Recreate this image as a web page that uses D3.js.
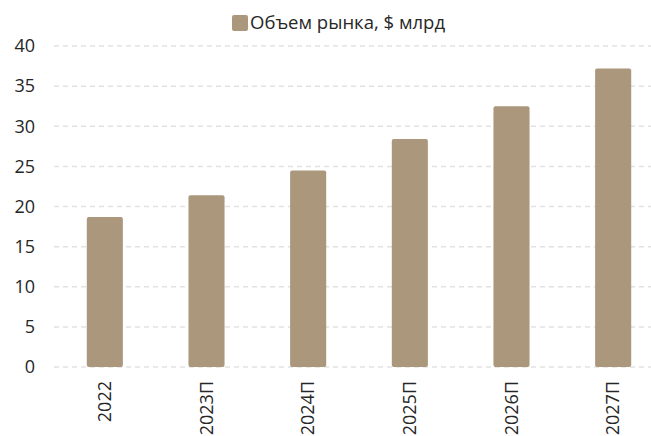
<!DOCTYPE html>
<html>
<head>
<meta charset="utf-8">
<script src="https://cdn.jsdelivr.net/npm/d3@7"></script>
<style>
  body { margin: 0; background: #fff; }
  text { font-family: "Open Sans", sans-serif; fill: #262626; }
</style>
</head>
<body>
<div id="chart"></div>
<script>
const width = 651;
const height = 436;

// market size, $ bn
const years = ["2022", "2023П", "2024П", "2025П", "2026П", "2027П"];
const values = [18.7, 21.4, 24.5, 28.4, 32.5, 37.2];
const yTicks = [0, 5, 10, 15, 20, 25, 30, 35, 40];
const seriesName = "Объем рынка, $ млрд";

const barColor = "#ab977c";

const svg = d3
  .select("#chart")
  .append("svg")
  .attr("width", width)
  .attr("height", height);

const x = d3.scaleBand().domain(years).range([54, 664]).paddingInner(0.645).paddingOuter(0.3225);
const y = d3.scaleLinear().domain([0, 40]).range([367, 46]);

// grid
svg
  .append("g")
  .selectAll("line")
  .data(yTicks)
  .join("line")
  .attr("x1", 54)
  .attr("x2", 664)
  .attr("y1", (d) => y(d))
  .attr("y2", (d) => y(d))
  .attr("stroke", "#e2e2e2")
  .attr("stroke-width", 1.5)
  .attr("stroke-dasharray", "5,4");

// y labels
svg
  .append("g")
  .selectAll("text")
  .data(yTicks)
  .join("text")
  .attr("x", 35)
  .attr("y", (d) => y(d))
  .attr("dy", "0.35em")
  .attr("text-anchor", "end")
  .style("font-size", "18px")
  .text((d) => d);

// bars
svg
  .append("g")
  .selectAll("rect")
  .data(values)
  .join("rect")
  .attr("x", (d, i) => x(years[i]))
  .attr("width", x.bandwidth())
  .attr("y", (d) => y(d))
  .attr("height", (d) => y(0) - y(d))
  .attr("rx", 2)
  .attr("fill", barColor);

// x labels, rotated
svg
  .append("g")
  .selectAll("text")
  .data(years)
  .join("text")
  .attr("transform", (d) => `translate(${x(d) + x.bandwidth() / 2},381) rotate(-90)`)
  .attr("dy", "0.35em")
  .attr("text-anchor", "end")
  .style("font-size", "18px")
  .text((d) => d);

// legend
const legend = svg.append("g");
legend
  .append("rect")
  .attr("x", 232)
  .attr("y", 15)
  .attr("width", 16)
  .attr("height", 16)
  .attr("rx", 2)
  .attr("fill", barColor);
legend
  .append("text")
  .attr("x", 250)
  .attr("y", 23)
  .attr("dy", "0.35em")
  .style("font-size", "18.5px")
  .text(seriesName);
</script>
</body>
</html>
